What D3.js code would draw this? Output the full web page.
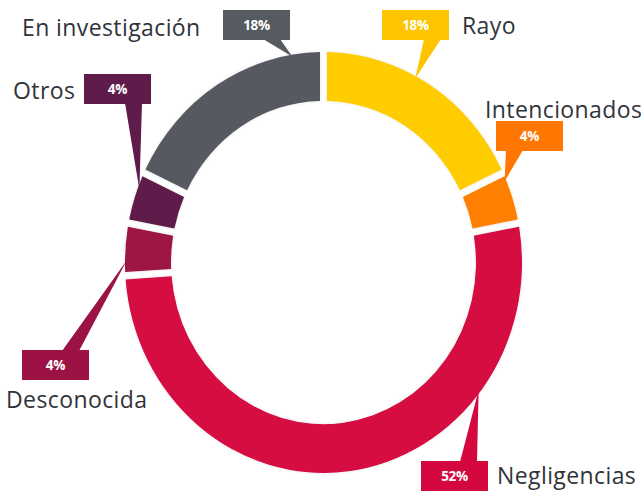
<!DOCTYPE html>
<html>
<head>
<meta charset="utf-8">
<script src="https://cdn.jsdelivr.net/npm/d3@7"></script>
<style>
  body { margin: 0; background: #fff; }
  text { font-family: "Open Sans", Lato, sans-serif; }
</style>
</head>
<body>
<div id="chart"></div>
<script>
// data
const categories = ["Rayo", "Intencionados", "Negligencias", "Desconocida", "Otros", "En investigación"]
const values = [18, 4, 52, 4, 4, 18]
const colors = ["#ffcc00", "#ff8000", "#d5073f", "#9d1244", "#5f1c4b", "#565a61"]
const boxColors = ["#ffc400", "#ff7700", "#d5073f", "#9d1244", "#5f1c4b", "#565a61"]

// callout layout: box top-left, side the pointer leaves from, pointer base offset, tip angle inside slice (0..1)
const boxPos = [[382, 10], [496, 121], [421, 461], [22, 350], [84, 74], [223, 10]]
const baseSide = ["bottom", "bottom", "top", "top", "bottom", "bottom"]
const baseOff = [42, 10, 39, 40, 41, 40]
const tipFrac = [0.43, 0.16, 0.26, 0.3, 0.67, 0.86]
// name label positions (text start, baseline)
const labelPos = [[462, 34], [485, 118], [497, 484], [6, 408], [13, 99], [22, 36]]

const width = 641, height = 492
const cx = 323.5, cy = 262.5
const sy = 1.06
const outerR = 198.5, innerR = 152.5
const boxW = 67, boxH = 30

const svg = d3.select("#chart").append("svg")
    .attr("width", width)
    .attr("height", height)

const defs = svg.append("defs")
const f = defs.append("filter").attr("id", "halo")
    .attr("x", "-10%").attr("y", "-10%").attr("width", "120%").attr("height", "120%")
f.append("feDropShadow").attr("dx", 0).attr("dy", 0)
    .attr("stdDeviation", 1.5).attr("flood-color", "#000").attr("flood-opacity", 0.12)

const pie = d3.pie().sort(null).value(d => d)
const arcs = pie(values)

const arc = d3.arc()
    .innerRadius(innerR)
    .outerRadius(outerR)
    .padAngle(0.04)
    .padRadius(175)

const ring = svg.append("g")
    .attr("transform", `translate(${cx},${cy}) scale(1,${sy})`)
    .attr("filter", "url(#halo)")

ring.selectAll("path")
    .data(arcs)
    .enter()
    .append("path")
    .attr("d", arc)
    .attr("fill", (d, i) => colors[i])

// screen point on ring for angle a and radius r
function ringPoint(a, r) {
    return [cx + r * Math.sin(a), cy - r * sy * Math.cos(a)]
}

const callouts = svg.append("g")

arcs.forEach((d, i) => {
    let bx = boxPos[i][0], by = boxPos[i][1]
    let a = d.startAngle + (d.endAngle - d.startAngle) * tipFrac[i]
    let tip = ringPoint(a, outerR - 2)
    let baseY = baseSide[i] === "bottom" ? by + boxH - 1 : by + 1
    let pts = [[bx + baseOff[i], baseY], [bx + baseOff[i] + 17, baseY], tip]

    callouts.append("path")
        .attr("d", d3.line()(pts) + "Z")
        .attr("fill", boxColors[i])

    callouts.append("rect")
        .attr("x", bx).attr("y", by)
        .attr("width", boxW).attr("height", boxH)
        .attr("fill", boxColors[i])

    callouts.append("text")
        .attr("x", bx + boxW / 2)
        .attr("y", by + boxH / 2 + 5)
        .attr("text-anchor", "middle")
        .attr("fill", "#fff")
        .attr("font-weight", 700)
        .attr("font-size", 13.5)
        .attr("letter-spacing", -0.3)
        .text(values[i] + "%")

    svg.append("text")
        .attr("x", labelPos[i][0])
        .attr("y", labelPos[i][1])
        .attr("fill", "#30343a")
        .attr("font-size", 23)
        .attr("letter-spacing", 0.4)
        .text(categories[i])
})
</script>
</body>
</html>
